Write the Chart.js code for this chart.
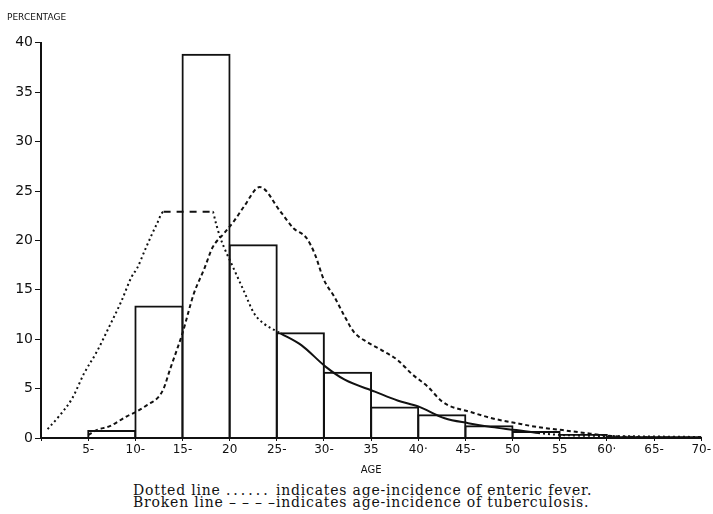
<!DOCTYPE html>
<html>
<head>
<meta charset="utf-8">
<script src="https://cdn.jsdelivr.net/npm/chart.js@4/dist/chart.umd.min.js"></script>
<style>
  html, body { margin: 0; padding: 0; background: #fff; }
  #wrap { position: relative; width: 713px; height: 514px; }
  #box { position: absolute; left: 0; top: 0; width: 713px; height: 478px; }
  #caption { position: absolute; left: 133px; top: 484px; font-family: "DejaVu Serif", serif; font-size: 14px; letter-spacing: 0.8px; line-height: 12px; color: #111; white-space: nowrap; }
  .dots { letter-spacing: 3px; }
</style>
</head>
<body>
<div id="wrap">
  <div id="box"><canvas id="chart"></canvas></div>
  <div id="caption">
    <div>Dotted line <span class="dots">......</span> indicates age-incidence of enteric fever.</div>
    <div>Broken line – – – –indicates age-incidence of tuberculosis.</div>
  </div>
</div>
<script>
// histogram: 5-year age groups, percentage of cases
const binStarts = [5, 10, 15, 20, 25, 30, 35, 40, 45, 50, 55, 60, 65];
const binPct = [0.8, 13.4, 38.9, 19.6, 10.7, 6.7, 3.2, 2.4, 1.3, 0.7, 0.4, 0.2, 0.2];

// dotted line - enteric fever
const entericAges = [0.7, 2.0, 3.3, 4.6, 5.9, 7.3, 8.5, 9.6, 10.2, 11.1, 12.3, 13.0, 15.0, 18.2, 18.5, 19.0, 20.5, 21.5, 22.6, 23.6, 25.4, 27.6, 30.2, 32.2, 35.4, 37.8, 40.0, 42.8, 45.3, 47.8, 50.4, 52.7, 55.3, 60, 65, 70];
const entericPct = [0.9, 2.3, 4.0, 6.6, 8.7, 11.4, 13.8, 16.3, 17.2, 19.2, 21.7, 22.9, 22.9, 22.9, 21.9, 20.3, 17.0, 14.9, 12.6, 11.6, 10.6, 9.4, 7.2, 5.9, 4.7, 3.8, 3.2, 2.0, 1.5, 1.1, 0.8, 0.5, 0.3, 0.2, 0.15, 0.1];

// broken line - tuberculosis
const tbAges = [5.0, 5.9, 7.3, 9.1, 10.2, 11.2, 12.5, 13.0, 13.7, 14.4, 15.0, 16.2, 17.3, 18.2, 19.4, 20.5, 21.5, 23.2, 25.4, 26.8, 28.1, 29.0, 30.0, 31.1, 32.2, 33.2, 34.6, 36.1, 37.8, 39.3, 41.0, 42.4, 43.2, 45.3, 47.8, 50.4, 52.7, 55.3, 57.7, 60.5, 63, 70];
const tbPct = [0.3, 0.8, 1.2, 2.2, 2.7, 3.3, 4.2, 5.0, 7.0, 8.9, 10.6, 14.6, 17.1, 19.3, 20.7, 22.0, 23.4, 25.4, 22.9, 21.2, 20.3, 18.7, 16.0, 14.3, 12.3, 10.7, 9.7, 8.9, 7.9, 6.5, 5.2, 3.8, 3.3, 2.7, 2.0, 1.5, 1.1, 0.8, 0.5, 0.2, 0.1, 0.0];

// x tick labels, one per 5 years
const ageLabels = ['', '5-', '10-', '15-', '20', '25-', '30-', '35', '40·', '45-', '50', '55', '60·', '65-', '70-'];

const ink = '#111';

function pts(xs, ys) { return xs.map((x, i) => ({ x: x, y: ys[i] })); }

// enteric line changes look along its length
function entericDash(ctx) {
  const a = ctx.p0.parsed.x;
  if (a >= 12.9 && a < 18.1) return [7, 6];
  if (a >= 24.5 && a < 51) return [];
  return [2, 3];
}

new Chart(document.getElementById('chart'), {
  type: 'bar',
  data: {
    datasets: [
      {
        type: 'line',
        data: pts(entericAges, entericPct),
        borderColor: ink, borderWidth: 2, borderDash: [2, 3],
        segment: { borderDash: entericDash },
        pointRadius: 0, cubicInterpolationMode: 'monotone', fill: false
      },
      {
        type: 'line',
        data: pts(tbAges, tbPct),
        borderColor: ink, borderWidth: 2, borderDash: [4, 3],
        pointRadius: 0, cubicInterpolationMode: 'monotone', fill: false
      },
      {
        type: 'bar',
        data: pts(binStarts.map(s => s + 2.5), binPct),
        backgroundColor: 'rgba(0,0,0,0)',
        borderColor: ink, borderWidth: 2, inflateAmount: 0,
        barPercentage: 1.04, categoryPercentage: 1
      }
    ]
  },
  options: {
    responsive: true,
    maintainAspectRatio: false,
    animation: false,
    layout: { padding: { left: 7, right: 11, top: 0, bottom: 0 } },
    plugins: {
      legend: { display: false },
      tooltip: { enabled: false },
      title: {
        display: true, text: 'PERCENTAGE', align: 'start', color: ink,
        font: { family: 'DejaVu Sans', size: 9, weight: 'normal' },
        padding: { top: 12, bottom: 20 }
      }
    },
    scales: {
      x: {
        type: 'linear', min: 0, max: 70, offset: false,
        grid: { display: true, drawOnChartArea: false, tickLength: 3, color: ink, offset: false },
        border: { color: ink, width: 2 },
        ticks: {
          stepSize: 5, color: ink, padding: 2, maxRotation: 0, autoSkip: false,
          font: { family: 'DejaVu Sans', size: 12 },
          callback: v => ageLabels[v / 5]
        },
        title: { display: true, text: 'AGE', color: ink, font: { family: 'DejaVu Sans', size: 10 }, padding: { top: 2, bottom: 2 } },
        afterFit: s => { s.height = 40; }
      },
      y: {
        min: 0, max: 40,
        grid: { display: true, drawOnChartArea: false, tickLength: 6, color: ink },
        border: { color: ink, width: 2 },
        ticks: { stepSize: 5, color: ink, padding: 2, font: { family: 'DejaVu Sans', size: 14 } },
        afterFit: s => { s.width = 34; }
      }
    }
  }
});
</script>
</body>
</html>
